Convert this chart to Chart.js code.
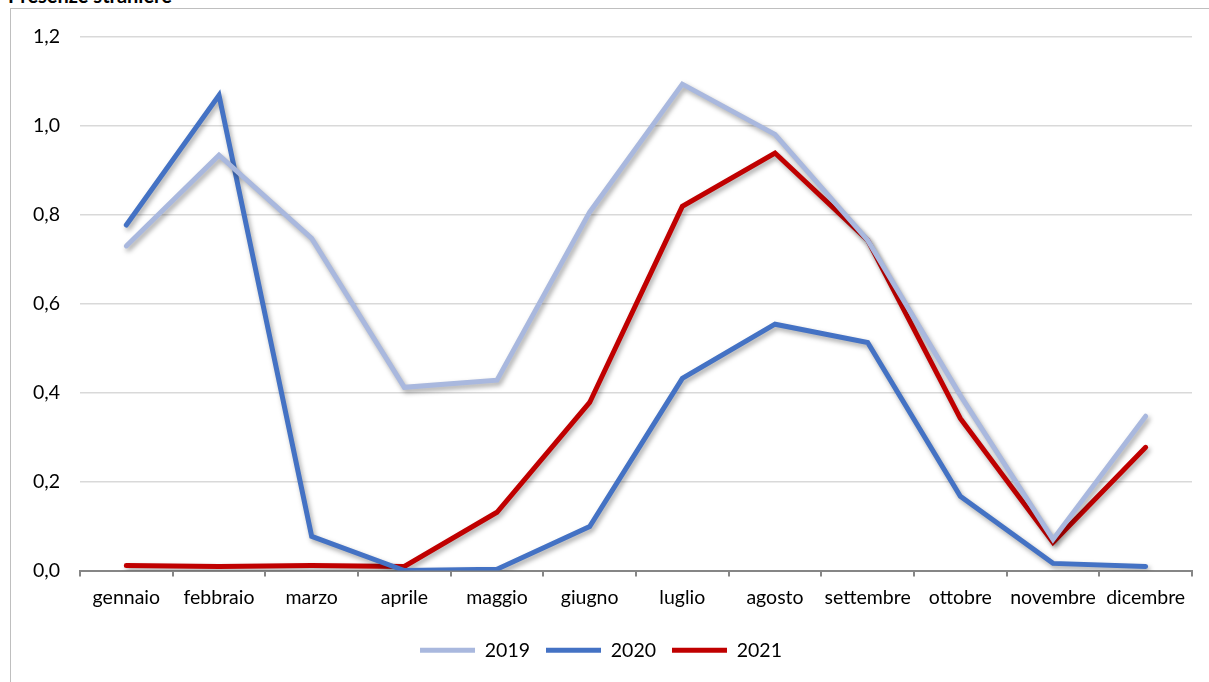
<!DOCTYPE html>
<html>
<head>
<meta charset="utf-8">
<script src="https://cdn.jsdelivr.net/npm/chart.js@4/dist/chart.umd.min.js"></script>
<style>
  html, body { margin: 0; padding: 0; background: #fff; overflow: hidden; }
  #wrap { position: relative; width: 1209px; height: 682px; }
  #frame { position: absolute; left: 10px; top: 8px; width: 1220px; height: 700px; border: 1px solid #bfbfbf; box-sizing: border-box; }
  #title { position: absolute; left: 8px; top: -17px; font: bold 20px Lato, "Liberation Sans", sans-serif; color: #000; white-space: nowrap; }
  canvas { position: absolute; left: 0; top: 0; }
</style>
</head>
<body>
<div id="wrap">
  <div id="frame"></div>
  <div id="title">Presenze straniere</div>
  <canvas id="chart" width="1209" height="682"></canvas>
</div>
<script>
const months = ['gennaio', 'febbraio', 'marzo', 'aprile', 'maggio', 'giugno', 'luglio', 'agosto', 'settembre', 'ottobre', 'novembre', 'dicembre']
const values2019 = [0.73, 0.934, 0.747, 0.412, 0.428, 0.806, 1.094, 0.981, 0.743, 0.394, 0.07, 0.347]
const values2020 = [0.777, 1.069, 0.077, 0.0, 0.003, 0.099, 0.432, 0.554, 0.513, 0.167, 0.016, 0.009]
const values2021 = [0.011, 0.009, 0.011, 0.009, 0.131, 0.378, 0.819, 0.939, 0.743, 0.342, 0.063, 0.277]
const yTicks = [0, 0.2, 0.4, 0.6, 0.8, 1.0, 1.2]

const font = { family: 'Lato, "Liberation Sans", sans-serif', size: 19.5 }

// soft drop shadow under the lines, like the office chart
const shadowPlugin = {
  id: 'lineShadow',
  beforeDatasetsDraw(chart) {
    const ctx = chart.ctx
    ctx.save()
    ctx.shadowColor = 'rgba(0,0,0,0.35)'
    ctx.shadowBlur = 5
    ctx.shadowOffsetX = 2
    ctx.shadowOffsetY = 3
  },
  afterDatasetsDraw(chart) {
    chart.ctx.restore()
  }
}

function series(label, data, color) {
  return {
    label,
    data,
    borderColor: color,
    backgroundColor: color,
    borderWidth: 5,
    pointRadius: 0,
    tension: 0,
    borderCapStyle: 'round',
    borderJoinStyle: 'miter'
  }
}

const ctx = document.getElementById('chart').getContext('2d')
new Chart(ctx, {
  type: 'line',
  data: {
    labels: months,
    datasets: [
      series('2019', values2019, '#a9b8de'),
      series('2020', values2020, '#4472c4'),
      series('2021', values2021, '#c00000')
    ]
  },
  options: {
    responsive: false,
    animation: false,
    layout: { padding: { left: 10, right: 17, top: 37, bottom: 12 } },
    plugins: {
      tooltip: { enabled: false },
      legend: {
        position: 'bottom',
        labels: {
          usePointStyle: true,
          pointStyle: 'line',
          pointStyleWidth: 55,
          boxHeight: 5,
          color: '#000',
          font,
          padding: 16
        }
      }
    },
    scales: {
      x: {
        offset: true,
        afterFit: s => { s.height = 54 },
        grid: { offset: true, drawOnChartArea: false, tickLength: 6, color: '#868686', lineWidth: 2 },
        border: { color: '#868686', width: 2 },
        ticks: { color: '#000', font, padding: 10, maxRotation: 0, autoSkip: false }
      },
      y: {
        min: 0,
        max: 1.2,
        afterFit: s => { s.width = 70 },
        afterBuildTicks: s => { s.ticks = yTicks.map(v => ({ value: v })) },
        grid: { color: '#d9d9d9', lineWidth: 1.5, drawTicks: false },
        border: { display: false },
        ticks: {
          color: '#000',
          font,
          padding: 20,
          callback: v => v.toFixed(1).replace('.', ',')
        }
      }
    }
  },
  plugins: [shadowPlugin]
})
</script>
</body>
</html>
